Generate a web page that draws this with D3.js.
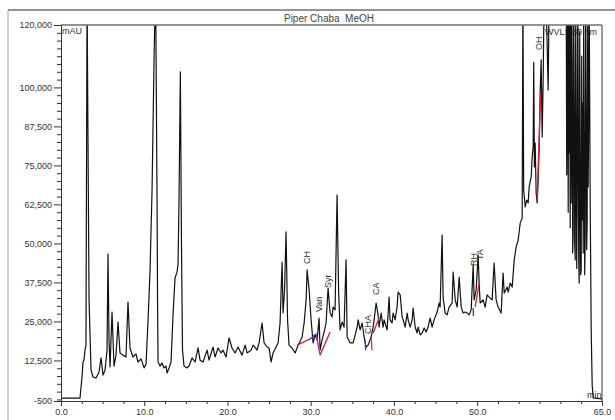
<!DOCTYPE html>
<html>
<head>
<meta charset="utf-8">
<script src="https://cdn.jsdelivr.net/npm/d3@7"></script>
<style>
  body { margin: 0; background: #fff; }
  svg { display: block; font-family: "Liberation Sans", Arial, sans-serif; }
</style>
</head>
<body>
<svg width="615" height="420"></svg>
<script>
// chromatogram, Piper Chaba MeOH, 280 nm
var chartTitle = "Piper Chaba  MeOH";
var yMajor = [-500, 12500, 25000, 37500, 50000, 62500, 75000, 87500, 100000, 120000];
var xMajor = [0, 10, 20, 30, 40, 50, 65];

// [time (min), signal (mAU)]
var trace = [
  [0, 400], [2.28, 400], [2.40, 3700], [2.52, 6900], [2.64, 12000], [2.76, 12600], [2.88, 15800], [3.00, 17400],
  [3.13, 130000], [3.37, 31900], [3.61, 9400], [3.85, 7200], [4.21, 6900], [4.57, 8800], [4.81, 13300], [5.05, 7800],
  [5.29, 9400], [5.53, 15800], [5.65, 46600], [5.77, 19100], [5.89, 10400], [6.13, 28000], [6.37, 10700], [6.61, 14200],
  [6.85, 24800], [7.09, 14900], [7.45, 14200], [7.81, 13600], [8.05, 31200], [8.29, 16500], [8.65, 13600], [9.01, 14600],
  [9.25, 12000], [9.62, 13000], [9.98, 10100], [10.22, 11400], [10.46, 25500], [10.70, 41500], [10.94, 67100], [11.18, 108800],
  [11.36, 135000], [11.54, 63900], [11.60, 31900], [11.66, 12000], [11.90, 10700], [12.14, 11700], [12.38, 10100], [12.62, 10700],
  [12.74, 8500], [12.98, 10100], [13.22, 12000], [13.46, 27100], [13.70, 38900], [13.94, 40800], [14.06, 43100], [14.18, 63900],
  [14.34, 105000], [14.48, 47900], [14.60, 15800], [14.78, 10700], [15.14, 10100], [15.38, 10700], [15.75, 13300], [16.11, 12000],
  [16.47, 16500], [16.71, 12600], [17.07, 12000],
  [17.55, 15800], [17.79, 12600], [18.27, 16800], [18.51, 13600], [18.87, 16500], [19.23, 14900], [19.47, 15800], [19.83, 13600],
  [20.19, 19700], [20.55, 16500], [20.91, 14900], [21.27, 16800], [21.75, 14200], [22.12, 17400], [22.36, 14900], [22.84, 15800],
  [23.08, 17400], [23.56, 15800], [23.80, 18100], [24.16, 24500], [24.40, 18100], [24.76, 16800], [25.00, 16500], [25.24, 12000],
  [25.48, 14900], [25.84, 16800], [26.08, 18100], [26.32, 24500], [26.56, 44000], [26.68, 27700], [26.86, 35100], [27.04, 53700],
  [27.22, 25500], [27.40, 17400], [27.76, 16500], [28.13, 14900], [28.49, 17400], [28.97, 20000], [29.21, 24500], [29.45, 31900],
  [29.57, 41500], [29.81, 35100], [30.05, 25500], [30.29, 18100], [30.53, 20700], [30.77, 19100], [31.01, 26100], [31.13, 15800],
  [31.37, 19100], [31.61, 21600], [31.85, 24500], [32.09, 35700], [32.33, 27700], [32.57, 26400], [32.69, 29600], [32.93, 28700],
  [33.17, 65500], [33.35, 35100], [33.53, 22300], [33.77, 24800], [34.01, 23200], [34.25, 44700], [34.38, 20000], [34.74, 18100],
  [35.10, 18100], [35.58, 23200], [35.70, 25500], [35.94, 22300], [36.18, 24500], [36.42, 20000], [36.66, 16800], [36.90, 17400],
  [37.26, 20000], [37.50, 23200], [37.62, 25500], [37.86, 30900], [38.10, 27100], [38.22, 23200], [38.46, 27700], [38.70, 23200],
  [38.82, 25500], [39.18, 22300], [39.42, 32800], [39.54, 25500], [39.78, 24500], [39.90, 27700], [40.14, 25500], [40.38, 29600],
  [40.50, 34400], [40.75, 33500], [40.99, 26400], [41.11, 25500], [41.35, 23200], [41.59, 27700], [41.71, 25500], [41.95, 23200],
  [42.19, 25500], [42.31, 29300], [42.55, 23200], [42.79, 21300], [42.91, 23200], [43.15, 20700], [43.39, 21300], [43.63, 22900],
  [43.87, 21600], [44.11, 23200], [44.35, 26100], [44.59, 23200], [44.83, 25500], [45.19, 28000], [45.43, 30900], [45.55, 29600],
  [45.79, 52700], [45.91, 32800], [46.15, 27700], [46.39, 27100], [46.63, 29600], [46.99, 30900], [47.12, 40800], [47.36, 31900],
  [47.60, 29600], [47.84, 39200], [48.08, 29600], [48.32, 27700], [48.56, 28000], [48.80, 27700], [49.04, 27100], [49.28, 28700],
  [49.52, 43100], [49.64, 31900], [49.88, 35100], [50.12, 46300], [50.24, 37300], [50.36, 30900], [50.72, 31900], [50.96, 29600],
  [51.20, 33500], [51.44, 32800], [51.80, 31900], [52.04, 43700], [52.28, 31900], [52.52, 29600], [52.88, 27700], [53.12, 40500],
  [53.25, 34100], [53.61, 36000], [53.73, 34400], [53.97, 37300], [54.21, 36000], [54.45, 44700], [54.69, 48900], [54.93, 51100],
  [55.17, 56500], [55.41, 58200], [55.50, 130000], [55.59, 67100], [55.77, 61700], [55.95, 63900], [56.13, 63000], [56.25, 68100],
  [56.49, 71300], [56.61, 77700], [56.73, 80900], [56.80, 108000], [56.88, 74500], [56.97, 82200], [57.09, 66200], [57.21, 63000],
  [57.33, 70300], [57.45, 80900], [57.57, 98500], [57.69, 108800], [57.81, 84100], [57.93, 102400], [58.05, 130000], [58.29, 128000],
  [58.53, 99200], [58.65, 130000], [59.50, 135000], [60.70, 130000], [60.76, 72000], [60.82, 96000], [60.88, 130000], [60.94, 60000],
  [61.00, 125000], [61.06, 79000], [61.12, 130000], [61.18, 55000], [61.24, 128000], [61.30, 63000], [61.36, 130000], [61.42, 108800],
  [61.48, 47000], [61.54, 53300], [61.60, 125000], [61.66, 99200], [61.72, 50000], [61.78, 44700], [61.84, 125000], [61.90, 89600],
  [61.96, 42000], [62.02, 63900], [62.08, 130000], [62.14, 102400], [62.20, 45000], [62.26, 37300], [62.32, 118000], [62.38, 79900],
  [62.44, 40000], [62.50, 41500], [62.56, 110000], [62.62, 57500], [62.68, 95000], [62.74, 46900], [62.80, 125000], [62.86, 86400],
  [62.92, 40000], [62.98, 51100], [63.04, 130000], [63.10, 96000], [63.16, 48000], [63.22, 57500], [63.28, 120000], [63.34, 68100],
  [63.40, 90000], [63.46, 130000], [63.58, 63900], [63.70, 22300], [63.82, 4600], [63.94, 500], [65, 200]
];

// integration baselines drawn by the software
var baseRed = [
  [[28.37, 17400], [29.93, 19400]],
  [[31.13, 14200], [32.33, 21600]],
  [[37.50, 21300], [38.22, 26100]],
  [[49.76, 29600], [50.24, 37300]],
  [[57.21, 64000], [57.62, 98000]]
];
var baseBlue = [
  [[29.93, 19400], [30.65, 21000]],
  [[36.54, 19100], [36.60, 15800]],
  [[49.52, 29300], [49.55, 26700]]
];
var baseMagenta = [
  [[30.65, 21000], [31.13, 14200]],
  [[37.26, 19700], [37.36, 15800]]
];

var peakNames = ["CH", "Van", "Syr", "CHA", "CA", "RH", "TA", "OH"];
var peakTimes = [29.57, 31.0, 32.1, 36.9, 37.86, 49.6, 50.36, 57.45];
var peakLabelValues = [43400, 28000, 35700, 21000, 33500, 42800, 44700, 112000];

var svg = d3.select("svg");
var x = d3.scaleLinear().domain([0, 65]).range([61, 602]);
var y = d3.scaleLinear().domain([-500, 120000]).range([401, 25]);

// outer frame and title band
var frame = "#6f6f6f";
svg.append("line").attr("x1", 8).attr("x2", 615).attr("y1", 10).attr("y2", 10)
  .attr("stroke", frame).attr("stroke-width", 1.6);
svg.append("line").attr("x1", 8).attr("x2", 8).attr("y1", 10).attr("y2", 420)
  .attr("stroke", "#a5a5a5").attr("stroke-width", 1);

svg.append("text").attr("x", 329).attr("y", 22)
  .attr("text-anchor", "middle").attr("font-size", 10).attr("fill", "#444")
  .style("white-space", "pre")
  .text(chartTitle);

svg.append("text").attr("x", 62).attr("y", 34)
  .attr("font-size", 9).attr("fill", "#333").text("mAU");
svg.append("text").attr("x", 545).attr("y", 35)
  .attr("font-size", 9).attr("fill", "#333").text("WVL:280 nm");
svg.append("text").attr("x", 587).attr("y", 398)
  .attr("font-size", 9).attr("fill", "#333").text("min");

svg.append("clipPath").attr("id", "plotclip")
  .append("rect").attr("x", 61).attr("y", 25).attr("width", 541).attr("height", 376);

var plot = svg.append("g").attr("clip-path", "url(#plotclip)");

var line = d3.line()
  .x(function(d) { return x(d[0]); })
  .y(function(d) { return y(d[1]); });

plot.append("path")
  .datum(trace)
  .attr("d", line)
  .attr("fill", "none")
  .attr("stroke", "#111")
  .attr("stroke-width", 1.2)
  .attr("stroke-linejoin", "round");

function drawSegments(list, color) {
  plot.selectAll(null)
    .data(list)
    .enter().append("path")
    .attr("d", line)
    .attr("fill", "none")
    .attr("stroke", color)
    .attr("stroke-width", 1.3);
}
drawSegments(baseRed, "#d4202a");
drawSegments(baseBlue, "#2a35c8");
drawSegments(baseMagenta, "#b02aa0");

// peak names, written upward
svg.selectAll(".peak")
  .data(peakNames)
  .enter().append("text")
  .attr("class", "peak")
  .attr("transform", function(d, i) {
    return "translate(" + x(peakTimes[i]) + "," + y(peakLabelValues[i]) + ") rotate(-90)";
  })
  .attr("dy", "0.35em")
  .attr("font-size", 9)
  .attr("fill", "#333")
  .text(function(d) { return d; });

// axes
var yMinor = d3.range(0, 120000, 2500).filter(function(v) { return yMajor.indexOf(v) < 0; });
var xMinor = d3.range(0, 65, 2.5).filter(function(v) { return xMajor.indexOf(v) < 0; });
var fmtY = function(v) { return d3.format(",")(v).replace("\u2212", "-"); };

var yAxis = svg.append("g")
  .attr("transform", "translate(61,0)")
  .call(d3.axisLeft(y).tickValues(yMajor).tickSize(7).tickPadding(2).tickFormat(fmtY));
var yMin = svg.append("g")
  .attr("transform", "translate(61,0)")
  .call(d3.axisLeft(y).tickValues(yMinor).tickSize(4).tickFormat(""));
yMin.select(".domain").remove();

var xAxis = svg.append("g")
  .attr("transform", "translate(0,401)")
  .call(d3.axisBottom(x).tickValues(xMajor).tickSize(5).tickPadding(3).tickFormat(d3.format(".1f")));
var xMin = svg.append("g")
  .attr("transform", "translate(0,401)")
  .call(d3.axisBottom(x).tickValues(xMinor).tickSize(3).tickFormat(""));
xMin.select(".domain").remove();

[yAxis, yMin, xAxis, xMin].forEach(function(g) {
  g.selectAll("path, line").attr("stroke", "#333");
  g.selectAll("text").attr("font-size", 9).attr("fill", "#333")
    .attr("font-family", "Liberation Sans, Arial, sans-serif");
});

// plot box: right and top edges
svg.append("line").attr("x1", 602).attr("x2", 602).attr("y1", 25).attr("y2", 401)
  .attr("stroke", "#333");
svg.append("line").attr("x1", 61).attr("x2", 602).attr("y1", 25).attr("y2", 25)
  .attr("stroke", frame).attr("stroke-width", 1.6);
</script>
</body>
</html>
